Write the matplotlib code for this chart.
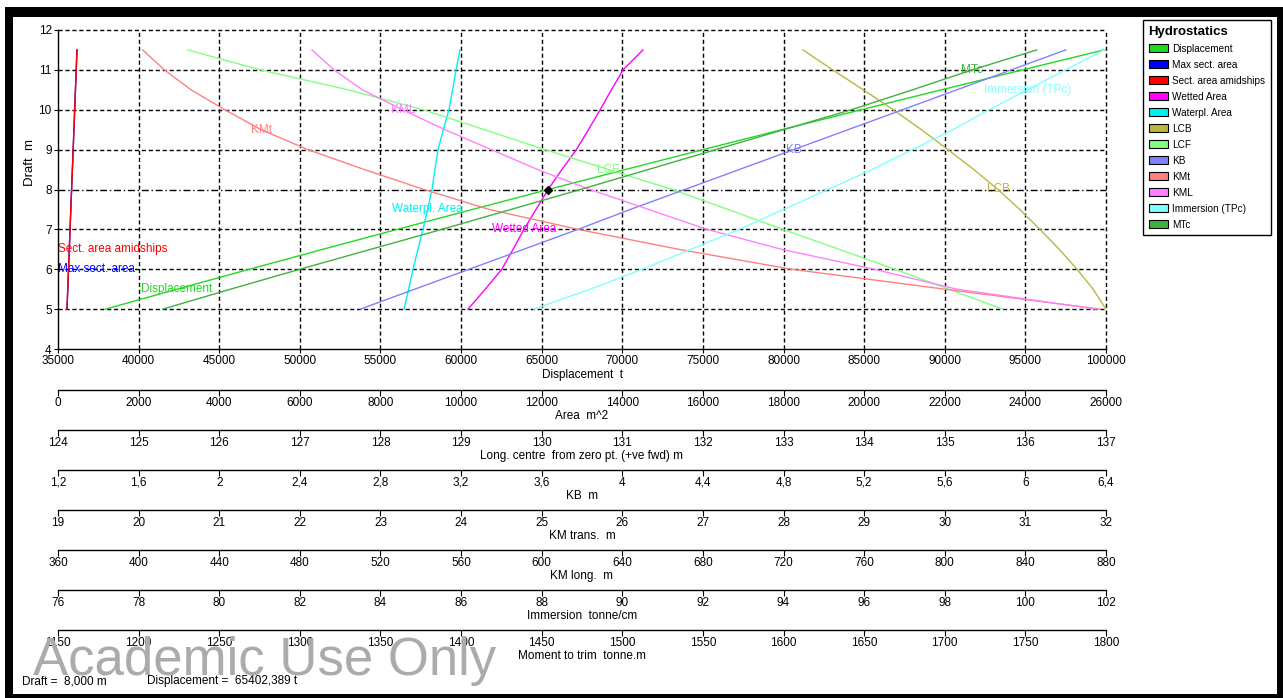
import numpy as np
import matplotlib
matplotlib.use("Agg")
import matplotlib.pyplot as plt
from matplotlib.patches import Patch, Rectangle
from matplotlib.ticker import FuncFormatter
from matplotlib import font_manager

W, H, DPI = 1283, 698, 100

# ---------------- data ----------------
drafts = [5.0, 5.5, 6.0, 6.5, 7.0, 7.5, 8.0, 8.5, 9.0, 9.5, 10.0, 10.5, 11.0, 11.5]

displacement = [37950, 42375, 46870, 51425, 56040, 60710, 65402, 70182, 75000,
                79885, 84815, 89795, 94820, 99880]
max_sect_area = [223, 242, 261, 280, 299, 318, 337, 357, 376, 395, 414, 433, 452, 471]
sect_area_amidships = [223, 242, 261, 280, 299, 318, 337, 357, 376, 395, 414, 433, 452, 471]
wetted_area = [10172, 10600, 11010, 11290, 11560, 11860, 12160, 12500, 12860,
               13160, 13450, 13730, 14020, 14510]
waterpl_area = [8584, 8700, 8807, 8930, 9055, 9170, 9279, 9350, 9428, 9560,
                9700, 9790, 9874, 9973]
lcb = [137.0, 136.84, 136.64, 136.42, 136.18, 135.93, 135.66, 135.36, 135.04,
       134.71, 134.36, 133.99, 133.61, 133.24]
lcf = [135.72, 135.05, 134.38, 133.69, 132.99, 132.31, 131.62, 130.83, 130.04,
       129.29, 128.53, 127.6, 126.51, 125.61]
kb = [2.70, 2.97, 3.24, 3.51, 3.78, 4.04, 4.31, 4.58, 4.85, 5.12, 5.39, 5.66, 5.93, 6.20]
kmt = [31.93, 30.0, 28.1, 26.7, 25.45, 24.35, 23.54, 22.8, 22.1, 21.52, 21.07,
       20.65, 20.32, 20.05]
kml = [875, 806, 765, 719, 682, 653, 624, 598, 575, 552, 531, 511, 497, 486]
immersion = [87.8, 89.2, 90.5, 91.7, 92.9, 94.0, 95.1, 96.2, 97.2, 98.2, 99.1,
             100.05, 101.0, 101.95]
mtc = [1215, 1257, 1300, 1344, 1388, 1431, 1474, 1516, 1558, 1600, 1642, 1680,
       1717, 1757]

current_draft = 8.0
current_disp = 65402.389

# tick values of each scale
disp_ticks = [35000, 40000, 45000, 50000, 55000, 60000, 65000, 70000, 75000,
              80000, 85000, 90000, 95000, 100000]
draft_ticks = [4, 5, 6, 7, 8, 9, 10, 11, 12]
area_ticks = [0, 2000, 4000, 6000, 8000, 10000, 12000, 14000, 16000, 18000,
              20000, 22000, 24000, 26000]
long_ticks = [124, 125, 126, 127, 128, 129, 130, 131, 132, 133, 134, 135, 136, 137]
kb_ticks = [1.2, 1.6, 2.0, 2.4, 2.8, 3.2, 3.6, 4.0, 4.4, 4.8, 5.2, 5.6, 6.0, 6.4]
kmt_ticks = [19, 20, 21, 22, 23, 24, 25, 26, 27, 28, 29, 30, 31, 32]
kml_ticks = [360, 400, 440, 480, 520, 560, 600, 640, 680, 720, 760, 800, 840, 880]
imm_ticks = [76, 78, 80, 82, 84, 86, 88, 90, 92, 94, 96, 98, 100, 102]
mtc_ticks = [1150, 1200, 1250, 1300, 1350, 1400, 1450, 1500, 1550, 1600, 1650,
             1700, 1750, 1800]

# ---------------- styling ----------------
plt.rcParams["font.family"] = ["Liberation Sans", "DejaVu Sans"]
FS = 8.5
comma = FuncFormatter(lambda v, p: ("%g" % v).replace(".", ","))

fig = plt.figure(figsize=(W / DPI, H / DPI), dpi=DPI)
fig.patch.set_facecolor("white")

L, R, T, B = 58, 1106, 30, 349
ax = fig.add_axes([L / W, 1 - B / H, (R - L) / W, (B - T) / H])
ax.set_xlim(disp_ticks[0], disp_ticks[-1])
ax.set_ylim(draft_ticks[0], draft_ticks[-1])
ax.set_xticks(disp_ticks)
ax.set_yticks(draft_ticks)
ax.xaxis.set_major_formatter(comma)
ax.yaxis.set_major_formatter(comma)
for s in ("top", "right"):
    ax.spines[s].set_visible(False)
for s in ("left", "bottom"):
    ax.spines[s].set_linewidth(1.0)
ax.tick_params(axis="both", direction="out", length=3, width=0.8,
               labelsize=FS, pad=1.5)
ax.set_xlabel("Displacement  t", fontsize=FS, labelpad=1)

# grid (dashed), current draft line (dash-dot)
for xv in disp_ticks[1:]:
    ax.axvline(xv, color="black", lw=1.0, ls=(0, (3, 2)), clip_on=False, zorder=0.5)
for yv in draft_ticks[1:]:
    style = (0, (5, 2, 1, 2)) if yv == current_draft else (0, (3, 2))
    ax.axhline(yv, color="black", lw=1.0, ls=style, clip_on=False, zorder=0.5)

# secondary scales below the plot, one twin axes each
scale_specs = [
    ("area", "Area  m^2", area_ticks, 41),
    ("long", "Long. centre  from zero pt. (+ve fwd) m", long_ticks, 81),
    ("kb", "KB  m", kb_ticks, 121),
    ("kmt", "KM trans.  m", kmt_ticks, 161),
    ("kml", "KM long.  m", kml_ticks, 201),
    ("imm", "Immersion  tonne/cm", imm_ticks, 241),
    ("mtc", "Moment to trim  tonne.m", mtc_ticks, 281),
]
axes = {"disp": ax}
for key, label, ticks, off in scale_specs:
    tw = ax.twiny()
    tw.set_xlim(ticks[0], ticks[-1])
    tw.set_xticks(ticks)
    tw.xaxis.set_major_formatter(comma)
    tw.xaxis.set_ticks_position("bottom")
    tw.xaxis.set_label_position("bottom")
    tw.spines["bottom"].set_position(("outward", off * 72 / DPI))
    tw.spines["bottom"].set_visible(True)
    tw.spines["bottom"].set_linewidth(1.0)
    for s in ("top", "left", "right"):
        tw.spines[s].set_visible(False)
    tw.tick_params(axis="x", direction="out", length=4, width=0.8,
                   labelsize=FS, pad=1)
    tw.set_xlabel(label, fontsize=FS, labelpad=1)
    axes[key] = tw

series = [
    ("Displacement", displacement, "disp", "#22D822", 5.5, "center"),
    ("Max sect. area", max_sect_area, "area", "#0000FF", 6.0, "left"),
    ("Sect. area amidships", sect_area_amidships, "area", "#FF0000", 6.5, "left"),
    ("Wetted Area", wetted_area, "area", "#FF00FF", 7.0, "center"),
    ("Waterpl. Area", waterpl_area, "area", "#00F0F0", 7.5, "center"),
    ("LCB", lcb, "long", "#B8B840", 8.0, "center"),
    ("LCF", lcf, "long", "#80FF80", 8.5, "center"),
    ("KB", kb, "kb", "#8080FF", 9.0, "center"),
    ("KMt", kmt, "kmt", "#FF8080", 9.5, "center"),
    ("KML", kml, "kml", "#FF80FF", 10.0, "center"),
    ("Immersion (TPc)", immersion, "imm", "#80FFFF", 10.5, "center"),
    ("MTc", mtc, "mtc", "#40B040", 11.0, "center"),
]

for name, vals, key, col, ld, ha in series:
    a = axes[key]
    a.plot(vals, drafts, color=col, lw=1.0, zorder=3)
    if ha == "left":
        lx = a.get_xlim()[0]
    else:
        lx = np.interp(ld, drafts, vals)
    a.text(lx, ld, name, color=col, fontsize=FS, ha=ha, va="center",
           zorder=4, clip_on=False)

# current draft marker
axes["mtc"].plot([current_disp], [current_draft], marker="D", color="black",
                 ms=4.5, transform=ax.transData, zorder=6, clip_on=False)

# y label
fig.text(30 / W, 1 - 163 / H, "Draft  m", rotation=90, ha="center",
         va="center", fontsize=9.5)

# legend
handles = [Patch(facecolor=c, edgecolor="black", linewidth=0.8, label=n)
           for n, _, _, c, _, _ in series]
leg = fig.legend(handles=handles, loc="upper left",
                 bbox_to_anchor=(1143 / W, 1 - 20 / H),
                 bbox_transform=fig.transFigure, title="Hydrostatics",
                 title_fontproperties={"weight": "bold", "size": 9.5},
                 fontsize=7.2, frameon=True, fancybox=False,
                 edgecolor="black", framealpha=1, borderaxespad=0,
                 borderpad=0.55, handlelength=1.9, handleheight=0.8,
                 handletextpad=0.5, labelspacing=0.6, alignment="left")
leg.get_frame().set_linewidth(1.0)

# status line
fig.text(22 / W, 1 - 681 / H,
         "Draft =  " + ("%.3f" % current_draft).replace(".", ",") + " m",
         fontsize=FS, ha="left", va="center")
fig.text(147 / W, 1 - 681 / H,
         "Displacement =  " + ("%.3f" % current_disp).replace(".", ",") + " t",
         fontsize=FS, ha="left", va="center")

# watermark
names = {f.name for f in font_manager.fontManager.ttflist}
if "Liberation Sans Narrow" in names:
    wm_family, wm_size = "Liberation Sans Narrow", 45
else:
    wm_family, wm_size = "Liberation Sans", 38
fig.text(33 / W, 1 - 675 / H, "Academic Use Only", family=wm_family,
         fontsize=wm_size, color="#ABABAB", ha="left", va="baseline", zorder=20)

# window frame
def frame_rect(x0, y0, x1, y1):
    fig.add_artist(Rectangle((x0 / W, 1 - y1 / H), (x1 - x0) / W, (y1 - y0) / H,
                             transform=fig.transFigure, facecolor="black",
                             edgecolor="none", zorder=30))

frame_rect(5, 7, W, 17)
frame_rect(5, 7, 13, H)
frame_rect(1277, 7, W, H)
frame_rect(5, 694, W, H)

fig.savefig("out.png", dpi=DPI)
